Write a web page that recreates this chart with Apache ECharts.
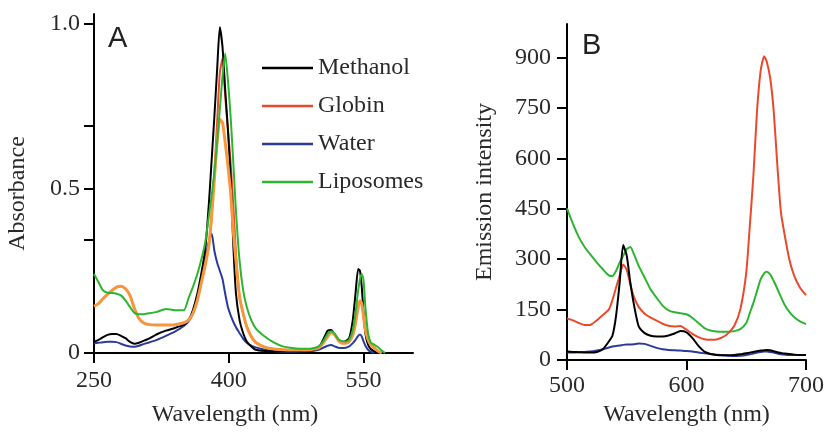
<!DOCTYPE html>
<html>
<head>
<meta charset="utf-8">
<script src="https://cdn.jsdelivr.net/npm/echarts@6/dist/echarts.min.js"></script>
<style>html,body{margin:0;padding:0;background:#fff}#c{width:827px;height:432px}</style>
</head>
<body>
<div id="c"></div>
<script>
// ---------- Panel A: absorbance ----------
const wlA = [250,255,260,265,270,275,280,285,290,295,300,305,310,320,330,340,350,355,360,365,370,374,378,381,384,387,390,393,396,399,402,405,408,412,416,420,425,430,440,450,460,470,480,490,495,500,505,510,514,518,522,526,530,534,538,541,544,546,548,550,552,555,558,562,566,570,574];
const methanolA = [0.034,0.040,0.048,0.055,0.058,0.058,0.052,0.045,0.034,0.028,0.031,0.037,0.042,0.057,0.068,0.076,0.086,0.099,0.130,0.180,0.250,0.320,0.460,0.590,0.720,0.860,0.990,0.930,0.800,0.680,0.540,0.330,0.180,0.100,0.060,0.035,0.020,0.010,0.006,0.005,0.005,0.005,0.006,0.008,0.010,0.015,0.040,0.068,0.070,0.055,0.040,0.034,0.036,0.045,0.100,0.180,0.255,0.250,0.200,0.120,0.060,0.025,0.012,0.005,0.000,null,null];
const globinA = [0.142,0.150,0.165,0.178,0.190,0.200,0.203,0.195,0.175,0.135,0.105,0.092,0.087,0.085,0.085,0.086,0.092,0.100,0.120,0.160,0.220,0.270,0.330,0.420,0.550,0.700,0.850,0.895,0.780,0.680,0.580,0.450,0.300,0.170,0.120,0.080,0.050,0.032,0.018,0.012,0.010,0.009,0.009,0.010,0.012,0.015,0.030,0.050,0.062,0.055,0.038,0.030,0.030,0.035,0.055,0.090,0.140,0.159,0.150,0.110,0.070,0.040,0.025,0.015,0.006,0.000,null];
const globin2A = [0.142,0.150,0.165,0.178,0.190,0.200,0.203,0.195,0.175,0.135,0.105,0.092,0.087,0.085,0.085,0.086,0.092,0.100,0.120,0.160,0.220,0.270,0.330,0.420,0.530,0.640,0.710,0.700,0.640,0.570,0.490,0.370,0.280,0.170,0.120,0.080,0.050,0.032,0.018,0.012,0.010,0.009,0.009,0.010,0.012,0.015,0.030,0.050,0.062,0.055,0.038,0.030,0.030,0.035,0.055,0.090,0.140,0.159,0.150,0.110,0.070,0.040,0.025,0.015,0.006,0.000,null];
const waterA = [0.029,0.031,0.033,0.034,0.034,0.033,0.028,0.023,0.020,0.019,0.022,0.027,0.031,0.040,0.052,0.065,0.082,0.095,0.120,0.160,0.240,0.290,0.340,0.362,0.310,0.275,0.250,0.225,0.180,0.140,0.115,0.095,0.078,0.060,0.043,0.031,0.022,0.017,0.010,0.006,0.004,0.004,0.005,0.006,0.007,0.010,0.016,0.022,0.024,0.020,0.016,0.015,0.016,0.020,0.030,0.040,0.052,0.056,0.050,0.035,0.022,0.010,0.004,0.000,null,null,null];
const liposomesA = [0.240,0.215,0.190,0.183,0.182,0.180,0.175,0.160,0.140,0.122,0.118,0.118,0.120,0.125,0.134,0.130,0.130,0.165,0.200,0.240,0.290,0.340,0.420,0.480,0.550,0.640,0.740,0.840,0.910,0.830,0.720,0.580,0.430,0.280,0.190,0.140,0.100,0.075,0.050,0.032,0.020,0.015,0.013,0.013,0.015,0.020,0.035,0.058,0.066,0.058,0.042,0.036,0.035,0.040,0.070,0.120,0.190,0.225,0.240,0.220,0.140,0.060,0.032,0.025,0.018,0.008,0.000];

// ---------- Panel B: emission ----------
const wlB = [500,505,510,515,520,525,530,535,538,541,544,547,550,553,556,560,565,570,575,580,585,590,595,600,605,610,615,620,625,630,635,640,645,650,653,656,659,662,665,667,670,673,676,679,682,686,690,695,700];
const methanolB = [25,24,23,22,22,24,32,55,72,130,228,342,310,230,165,100,80,72,70,70,73,79,86,82,65,42,25,18,15,14,14,15,17,20,22,24,26,28,29,30,29,26,23,21,19,18,16,15,15];
const globinB = [124,118,110,104,105,118,134,150,178,215,250,284,268,225,188,158,138,126,117,108,102,100,101,90,78,68,62,60,61,67,80,102,150,260,400,550,740,860,904,890,840,740,580,440,375,300,252,215,193];
const waterB = [22,22,23,24,25,28,32,37,40,42,43,45,46,46,47,49,48,42,36,32,30,29,28,27,25,22,20,18,16,14,13,12,13,15,17,19,22,24,25,25,24,22,19,17,16,15,15,15,15];
const liposomesB = [451,405,365,335,312,290,270,252,250,265,290,310,330,336,315,280,245,210,185,162,148,142,139,136,125,110,95,88,85,84,84,86,92,110,140,170,205,240,258,263,255,235,212,188,165,143,128,115,107];

// ---------- axis ticks / labels ----------
const ticksAx = [250,400,550];
const ticksAy = [0,0.345,0.5,0.69,1.0];
const labelsAy = [0,0.5,1.0];
const ticksBx = [500,600,700];
const ticksBy = [0,150,300,450,600,750,900];

const C = {black:'#000000', red:'#ea4a2c', blue:'#2c3a9c', green:'#2db532', orange:'#f7963c'};
const serif = 'Liberation Serif';

function pairs(xs, ys){ const out=[]; xs.forEach((x,i)=>{ if(ys[i]!==null) out.push([x,ys[i]]); }); return out; }

function axisBase(){
  return {
    type:'value', splitLine:{show:false},
    axisLine:{show:true, onZero:false, lineStyle:{color:'#000', width:2}},
    axisTick:{show:true, inside:false, length:10, lineStyle:{color:'#000', width:2}},
    axisLabel:{color:'#2a2a2a', fontFamily:serif, fontSize:24},
    nameTextStyle:{color:'#2a2a2a', fontFamily:serif, fontSize:24},
    nameLocation:'middle'
  };
}

const xA = Object.assign(axisBase(), {gridIndex:0, min:250, max:605, name:'Wavelength (nm)', nameGap:50});
xA.axisTick.customValues = ticksAx; xA.axisLabel.customValues = ticksAx; xA.axisLabel.margin = 16;
xA.nameTextStyle.padding = [0,37,0,0];
const yA = Object.assign(axisBase(), {gridIndex:0, min:0, max:1.03, name:'Absorbance', nameGap:64});
yA.axisTick.customValues = ticksAy; yA.axisLabel.customValues = labelsAy; yA.axisLabel.margin = 14;
yA.axisLabel.formatter = v => v===0 ? '0' : v.toFixed(1);
yA.nameTextStyle.padding = [0,20,0,0];
const xB = Object.assign(axisBase(), {gridIndex:1, min:500, max:700, name:'Wavelength (nm)', nameGap:43});
xB.axisTick.customValues = ticksBx; xB.axisLabel.customValues = ticksBx; xB.axisLabel.margin = 14;
const yB = Object.assign(axisBase(), {gridIndex:1, min:0, max:1000, name:'Emission intensity', nameGap:70});
yB.axisTick.customValues = ticksBy; yB.axisLabel.customValues = ticksBy; yB.axisLabel.margin = 16;

function line(name, color, xi, data, w){
  return {name, type:'line', xAxisIndex:xi, yAxisIndex:xi, data, showSymbol:false, symbol:'none',
    smooth:0.2, lineStyle:{color, width:w||2}, itemStyle:{color}, silent:true, z:2};
}

const chart = echarts.init(document.getElementById('c'), null, {renderer:'canvas'});
chart.setOption({
  animation:false,
  backgroundColor:'#fff',
  grid:[
    {left:94, top:14, width:319, height:344, containLabel:false},
    {left:567, top:24, width:243, height:336, containLabel:false}
  ],
  xAxis:[xA, xB],
  yAxis:[yA, yB],
  legend:{
    data:['Methanol','Globin','Water','Liposomes'],
    orient:'vertical', left:257, top:51, itemGap:14,
    icon:'rect', itemWidth:51, itemHeight:2.5,
    textStyle:{fontFamily:serif, fontSize:24, color:'#2a2a2a', lineHeight:24},
    selectedMode:false
  },
  graphic:[
    {type:'text', left:108, top:24, style:{text:'A', fontFamily:'Liberation Sans', fontSize:29, fill:'#222'}},
    {type:'text', left:582, top:31, style:{text:'B', fontFamily:'Liberation Sans', fontSize:29, fill:'#222'}}
  ],
  series:[
    line('Globin', C.red, 0, pairs(wlA, globinA), 2),
    line('Water', C.blue, 0, pairs(wlA, waterA), 2),
    line('Methanol', C.black, 0, pairs(wlA, methanolA), 2),
    line('Globin (apo)', C.orange, 0, pairs(wlA, globin2A), 3),
    line('Liposomes', C.green, 0, pairs(wlA, liposomesA), 2),
    line('Liposomes', C.green, 1, pairs(wlB, liposomesB), 2),
    line('Globin', C.red, 1, pairs(wlB, globinB), 2),
    line('Water', C.blue, 1, pairs(wlB, waterB), 2),
    line('Methanol', C.black, 1, pairs(wlB, methanolB), 2)
  ]
});
</script>
</body>
</html>
